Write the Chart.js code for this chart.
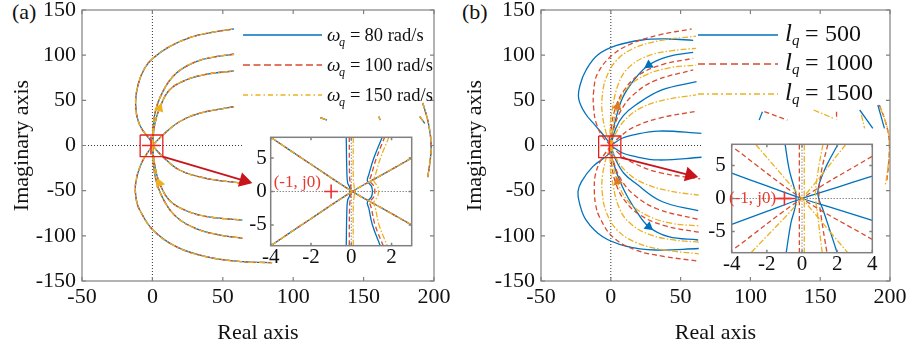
<!DOCTYPE html>
<html>
<head>
<meta charset="utf-8">
<script src="https://cdn.jsdelivr.net/npm/chart.js@4.4.1/dist/chart.umd.min.js"></script>
<style>
  body { margin: 0; width: 912px; height: 352px; position: relative; overflow: hidden; background: #fff; }
  canvas { position: absolute; }
  .tag { position: absolute; top: 1px; font: 22px 'Liberation Serif', 'Times New Roman', serif; line-height: 22px; color: #111; }
</style>
</head>
<body>
<div class="tag" style="left:12px">(a)</div>
<div class="tag" style="left:462px">(b)</div>
<canvas id="mainA" width="456" height="372" style="left:0;top:-20px"></canvas>
<canvas id="mainB" width="456" height="372" style="left:456px;top:-20px"></canvas>
<canvas id="insetA" width="195" height="165" style="left:230px;top:115px"></canvas>
<canvas id="insetB" width="195" height="165" style="left:690px;top:122px"></canvas>
<script>
const SERIF = "'Liberation Serif', 'Times New Roman', serif";
const BLUE = '#0072BD', RED = '#D84B2F', ORANGE = '#EDB120';
const DASH = [5, 3], DASHDOT = [6, 2, 1.5, 2], DOT = [1, 2];

// ticks and legend names
const xTicksMain = [-50, 0, 50, 100, 150, 200];
const yTicksMain = [-150, -100, -50, 0, 50, 100, 150];
const xTicksInsetA = [-4, -2, 0, 2];
const xTicksInsetB = [-4, -2, 0, 2, 4];
const yTicksInset = [-5, 0, 5];
const namesA = ['80 rad/s', '100 rad/s', '150 rad/s'];
const namesB = ['500', '1000', '1500'];

// (a) main plot: the three wq curves lie on top of each other at this scale
const aUp1 = [[0,0],[-0.8,4.2],[-9,22.7],[-11.9,44.8],[-10.2,67],[-5.5,85.5],[0.4,96.5],[12.1,109.4],[28.6,120.4],[45.1,126],[58,129]];
const aUp2 = [[0,0],[1.6,33.8],[7.4,59.6],[16.9,79.9],[31,92.8],[45.1,98.3],[58,101]];
const aUp3 = [[0,0],[1.6,22.7],[5.1,41.2],[12.1,61.4],[23.9,72.5],[38,78.8],[58,82.5]];
const aUp4 = [[0,0],[7.4,11.6],[19.2,26.3],[33.3,35.6],[58,43]];
const aLo1 = [[0,0],[-7.8,-19.7],[-11.9,-41.8],[-11.4,-60.3],[-9,-71.4],[0.4,-93.5],[16.9,-112],[38,-123],[63.9,-128.6],[85,-129.7]];
const aLo2 = [[0,0],[1.8,-33],[7.6,-59],[17,-79],[31,-92],[47.5,-99],[63.9,-102.7]];
const aLo3 = [[0,0],[1.8,-23],[5.1,-41.8],[12.3,-61],[24.5,-72.5],[40,-79],[63.9,-82.5]];
const aLo4 = [[0,0],[7.4,-12.4],[19.2,-27.1],[38.1,-36.3],[63.9,-41.8]];
const aBit1 = [[119.3,30.8],[124,28.2]];
const aBit2 = [[161,31.9],[161.6,28.2]];
const aBit3 = [[189.9,31.9],[193.4,24.6]];
const aArc = [[192,47],[196,25],[198,0],[197,-20],[195.5,-35]];
const aMarks = [[5.1,41.2],[5.1,-41.8]];
const aBox = [[-8.7,11.6],[7.4,11.6],[7.4,-12.4],[-8.7,-12.4],[-8.7,11.6]];
const aArrow = [[7.4,-12.4],[65.1,-39]];
const aZeroH = [[-50,0],[63.7,0]];
const zeroV = [[0,-150],[0,150]];
const minusOne = [[-1,0]];

// (b) main plot, per lq value
const bUp1 = [[0,0],[-4,9],[-11,22],[-18.5,36],[-23,52],[-22,67],[-17.7,83.6],[-9.4,100.2],[3.6,110.5],[22.5,116.8],[41.4,117.9],[59,116.4]];
const bUp2 = [[0,0],[0.8,12],[2.4,22.7],[8.3,52.2],[16.6,72.5],[27.2,89.1],[41,98.5],[59,103]];
const bUp3 = [[0,0],[3.6,19],[9,33],[17.8,44.8],[36.6,61.5],[61.4,70.7]];
const bUp4 = [[0,0],[8,8],[15.3,11.6],[34.2,16],[64.9,13.5]];
const bLo1 = [[0,0],[-1.1,-8.7],[-12.9,-23.4],[-21,-40],[-23.5,-51],[-22.4,-64],[-17.7,-82.5],[-5.8,-101],[10.7,-111.3],[31.9,-115.7],[63,-114]];
const bLo2 = [[0,0],[1.2,-16],[8.3,-45.6],[17.8,-71.4],[27.2,-89.9],[41.4,-101],[62.6,-104.6]];
const bLo3 = [[0,0],[3.6,-16],[9.5,-31],[17.8,-41.9],[36.6,-62],[62.6,-72]];
const bLo4 = [[0,0],[8,-8],[15.3,-11.6],[34,-16],[65,-13]];
const rUp1 = [[0,0],[-5.9,9.8],[-10.5,25],[-12.3,42],[-12.3,59.6],[-9.4,79.9],[1.2,100.2],[15.4,113.1],[34.3,122.3],[57.9,129]];
const rUp2 = [[0,0],[0.5,20],[3,40],[9,60],[20,78],[38,90],[59,96.5]];
const rUp3 = [[0,0],[2,18],[7,38],[16,56],[32,72],[59,83.6]];
const rUp4 = [[0,0],[6,9],[16,20],[34,30],[60,37.5]];
const rLo1 = [[0,0],[-7,-16],[-11,-32],[-11.8,-49.3],[-10.8,-66],[-8.2,-78.8],[1.2,-101],[17.8,-115.7],[39,-123],[63,-128]];
const rLo2 = [[0,0],[0.6,-20],[3.2,-40],[9.5,-60],[21,-77],[39,-89],[63,-96]];
const rLo3 = [[0,0],[2,-18],[7.5,-38],[17,-55],[33,-70],[63,-82]];
const rLo4 = [[0,0],[6,-9],[17,-20],[35,-30],[64,-37]];
const oUp1 = [[0,0],[-3,12],[-5.9,33],[-6.3,52],[-3.5,74],[4,94],[17,108],[35,116],[61,121]];
const oUp2 = [[0,0],[-0.5,15],[0.5,35],[5.9,70],[14,88],[28,100],[44,105],[61,107.5]];
const oUp3 = [[0,0],[1,15],[4.8,43],[12,64],[25,78],[42,86],[61,89]];
const oUp4 = [[0,0],[3,12],[10,28],[22,42],[40,51],[61,56]];
const oLo1 = [[0,0],[-3,-12],[-5.9,-33],[-6.2,-51],[-3.4,-73],[4.2,-93],[17.5,-107],[36,-115],[63,-120]];
const oLo2 = [[0,0],[-0.5,-15],[0.6,-35],[6,-69],[14.5,-87],[28.5,-99],[45,-104.5],[63,-107]];
const oLo3 = [[0,0],[1,-15],[4.8,-40],[12.5,-62],[25.5,-77],[43,-86],[63,-89]];
const oLo4 = [[0,0],[3,-12],[10.5,-28],[22.5,-41],[41,-50],[63,-55]];
const bBit1 = [[106.3,28.2],[108.6,37.4]];
const bBit2 = [[178.3,39.3],[187.7,19]];
const bBit3 = [[191.3,44.8],[196,19]];
const rBit1 = [[110,37.4],[126.5,28.2]];
const rBit2 = [[161.7,37.4],[161.7,28.2]];
const rArc = [[192.4,44.8],[197,25],[199.5,4],[199,-20],[197.5,-42]];
const oBit1 = [[145.3,39.3],[159.4,30.1]];
const oBit2 = [[179.5,33.8],[181.8,19]];
const oArc = [[193,42],[198,20],[199.5,0],[198.5,-25],[196.5,-45]];
const bBlueMarks = [[27.2,89.1],[27.2,-89.9]];
const bOrangeMarks = [[4.8,43],[4.8,-40]];
const bBox = [[-8.7,10.5],[7.2,10.5],[7.2,-13.5],[-8.7,-13.5],[-8.7,10.5]];
const bArrow = [[7.2,-13.5],[56.6,-32.7]];
const bZeroH = [[-50,0],[64.7,0]];

// (a) inset, zoom round (-1, j0)
const iaDiag1 = [[-4,8.1],[-2,4.06],[0,0.1],[1.5,-2.45],[3,-5]];
const iaDiag2 = [[-4,-8.1],[-2,-4.06],[0,-0.1],[1.5,2.45],[3,5]];
const iaMidBlue = [[-0.25,8.2],[-0.22,3],[-0.18,1.3],[-0.08,0.6],[-0.08,-0.6],[-0.18,-1.3],[-0.22,-3],[-0.25,-8.2]];
const iaMidRed = [[-0.1,8.2],[-0.08,2],[-0.02,0.6],[-0.02,-0.6],[-0.08,-2],[-0.1,-8.2]];
const iaMidOrange = [[0.1,8.2],[0.1,2],[0.15,0.5],[0.15,-0.5],[0.1,-2],[0.1,-8.2]];
const iaRightBlue = [[1.55,8.2],[1.12,5],[0.87,2.5],[0.8,1.6],[1,0.8],[1.05,0],[1,-0.8],[0.8,-1.6],[0.87,-2.5],[1.05,-5],[1.45,-8.2]];
const iaRightRed = [[1.67,8.2],[1.25,5],[1,2.5],[0.93,1.6],[1.12,0.8],[1.17,0],[1.12,-0.8],[0.93,-1.6],[1,-2.5],[1.18,-5],[1.6,-8.2]];
const iaRightOrange = [[1.88,8.2],[1.45,5],[1.2,2.5],[1.12,1.6],[1.3,0.8],[1.35,0],[1.3,-0.8],[1.12,-1.6],[1.2,-2.5],[1.38,-5],[1.8,-8.2]];
const iaZeroH = [[-4,0],[3,0]];
const iaZeroV = [[0,-8.1],[0,8.1]];

// (b) inset
const ibBlueDiag1 = [[-4,3.85],[-2,1.9],[0,0],[2,-1.65],[4,-3.3]];
const ibBlueDiag2 = [[-4,-3.9],[-2,-1.95],[0,0],[2,1.7],[4,3.4]];
const ibBlueLeft = [[-0.96,8.2],[-0.73,4.4],[-0.44,1.6],[-0.34,0.6],[-0.38,-1.2],[-0.63,-3.7],[-0.9,-8.2]];
const ibBlueRight = [[2.05,8.2],[1.38,4.9],[1,2.4],[0.9,0.86],[1,-0.4],[1.19,-1.67],[1.57,-4.7],[2,-8.2]];
const ibRedDiag1 = [[-3.8,7.5],[0,0],[4,-6.2]];
const ibRedDiag2 = [[-3.8,-7.5],[0,0],[4,6.4]];
const ibRedMid = [[-0.15,8.2],[-0.15,-8.2]];
const ibRedRight = [[1.47,8.2],[1.09,3.9],[0.96,0.6],[1.09,-2.7],[1.42,-8.2]];
const ibRedStub = [[-1.6,0],[-0.35,0]];
const ibOrgDiag1 = [[-2.64,8.2],[0,0],[2.6,-8.2]];
const ibOrgDiag2 = [[-2.9,-8.2],[0,0],[2.5,8.2]];
const ibOrgMid = [[0.13,8.2],[0.13,-8.2]];
const ibOrgRight = [[1.19,8.2],[0.9,3.9],[0.77,0.6],[0.9,-2.7],[1.15,-8.2]];
const ibZeroH = [[-4,0],[4,0]];
const ibZeroV = [[0,-8.2],[0,8.2]];

const P = a => a.map(([x, y]) => ({x, y}));
function curve(data, color, dash, width, tension) {
  return { data: P(data), showLine: true, borderColor: color, borderWidth: width || 1.3,
    borderDash: dash || [], pointRadius: 0, tension: tension === undefined ? 0.4 : tension, fill: false };
}
function marker(data, color, style, radius, rotation) {
  return { data: P(data), showLine: false, pointStyle: style, pointRadius: radius, pointRotation: rotation || 0,
    pointBackgroundColor: color, pointBorderColor: color, pointBorderWidth: 1.6 };
}

// grey box with inward ticks, MATLAB style
const frame = {
  id: 'frame',
  beforeDatasetsDraw(c) {
    const r = c.chartArea, ctx = c.ctx;
    ctx.save(); ctx.fillStyle = '#fff';
    ctx.fillRect(r.left, r.top, r.right - r.left, r.bottom - r.top); ctx.restore();
  },
  afterDatasetsDraw(c, args, o) {
    const {ctx, chartArea: r, scales: {x, y}} = c;
    ctx.save();
    ctx.strokeStyle = '#808080'; ctx.lineWidth = o.width;
    ctx.beginPath();
    x.ticks.forEach(t => {
      const p = x.getPixelForValue(t.value);
      ctx.moveTo(p, r.top); ctx.lineTo(p, r.top + o.tick);
      ctx.moveTo(p, r.bottom); ctx.lineTo(p, r.bottom - o.tick);
    });
    y.ticks.forEach(t => {
      const p = y.getPixelForValue(t.value);
      ctx.moveTo(r.left, p); ctx.lineTo(r.left + o.tick, p);
      ctx.moveTo(r.right, p); ctx.lineTo(r.right - o.tick, p);
    });
    ctx.stroke();
    ctx.strokeRect(r.left, r.top, r.right - r.left, r.bottom - r.top);
    ctx.restore();
  }
};

// "(-1, j0)" labels inside the insets
const notes = {
  id: 'notes',
  afterDraw(c, args, o) {
    if (!o.items) return;
    const ctx = c.ctx;
    ctx.save();
    ctx.font = '17px ' + SERIF; ctx.fillStyle = '#E8392F';
    ctx.textAlign = 'center'; ctx.textBaseline = 'middle';
    o.items.forEach(n => ctx.fillText(n.text, c.scales.x.getPixelForValue(n.x), c.scales.y.getPixelForValue(n.y)));
    ctx.restore();
  }
};

const legendBox = {
  id: 'legendBox',
  afterDraw(c, args, o) {
    if (!o.names) return;
    const ctx = c.ctx;
    o.names.forEach((name, i) => {
      const y = o.y[i], st = o.styles[i];
      ctx.save();
      ctx.strokeStyle = st.c; ctx.lineWidth = 1.4; ctx.setLineDash(st.d);
      ctx.beginPath(); ctx.moveTo(o.x0, y); ctx.lineTo(o.x1, y); ctx.stroke();
      ctx.setLineDash([]);
      ctx.fillStyle = '#111'; ctx.textAlign = 'left'; ctx.textBaseline = 'alphabetic';
      ctx.font = 'italic ' + o.symSize + 'px ' + SERIF; ctx.fillText(o.sym, o.symX, y + o.base);
      ctx.font = 'italic ' + o.subSize + 'px ' + SERIF; ctx.fillText('q', o.subX, y + o.base + o.subDrop);
      ctx.font = o.size + 'px ' + SERIF;
      ctx.fillText('=', o.eqX, y + o.base);
      ctx.fillText(name, o.valX, y + o.base);
      ctx.restore();
    });
  }
};

function axis(min, max, ticks, size, pad, fit, title) {
  return {
    type: 'linear', min, max,
    afterBuildTicks: s => { s.ticks = ticks.map(v => ({ value: v })); },
    afterFit: fit,
    grid: { display: false, drawTicks: false }, border: { display: false },
    ticks: { autoSkip: false, maxRotation: 0, padding: pad, color: '#111', font: { family: SERIF, size, lineHeight: 1 } },
    title: title || { display: false }
  };
}

function mainChart(id, datasets, yWidth, padRight, yTitlePad, legend) {
  const tf = { family: SERIF, size: 22, lineHeight: 1 };
  return new Chart(document.getElementById(id), {
    type: 'scatter',
    data: { datasets },
    plugins: [frame, legendBox],
    options: {
      responsive: false, animation: false, devicePixelRatio: 1, events: [],
      layout: { padding: { left: 0, right: padRight, top: 30, bottom: 0 } },
      plugins: { legend: { display: false }, tooltip: { enabled: false },
        frame: { tick: 4, width: 1.2 }, legendBox: legend },
      scales: {
        x: axis(-50, 200, xTicksMain, 22, 5.5, s => { s.height = 71; },
          { display: true, text: 'Real axis', color: '#111', font: tf, padding: { top: 0, bottom: 8 } }),
        y: axis(-150, 150, yTicksMain, 22, 6, s => { s.width = yWidth; },
          { display: true, text: 'Imaginary axis', color: '#111', font: tf, padding: { top: yTitlePad, bottom: 0 } })
      }
    }
  });
}

function insetChart(id, datasets, xr, xt, yr, yWidth, padRight, yPad, label) {
  return new Chart(document.getElementById(id), {
    type: 'scatter',
    data: { datasets },
    plugins: [frame, notes],
    options: {
      responsive: false, animation: false, devicePixelRatio: 1, events: [],
      layout: { padding: { left: 0, right: padRight, top: 22.3, bottom: 0 } },
      plugins: { legend: { display: false }, tooltip: { enabled: false },
        frame: { tick: 3, width: 1.5 }, notes: { items: [label] } },
      scales: {
        x: axis(xr[0], xr[1], xt, 21, 1.7, s => { s.height = 34.3; }),
        y: axis(yr[0], yr[1], yTicksInset, 21, yPad, s => { s.width = yWidth; })
      }
    }
  });
}

// ---- panel (a) ----
const aCurves = [aUp1, aUp2, aUp3, aUp4, aLo1, aLo2, aLo3, aLo4, aBit1, aBit2, aBit3, aArc];
mainChart('mainA', [
  curve(aBox, '#E02020', [], 1.3, 0),
  curve(aArrow, '#C8141C', [], 1.8, 0),
  marker([aArrow[1]], '#C8141C', 'triangle', 7, 106),
  marker(minusOne, '#F02828', 'cross', 9),
  marker(aMarks, ORANGE, 'triangle', 4, [20, 340]),
  ...aCurves.map(c => curve(c, ORANGE, DASHDOT)),
  ...aCurves.map(c => curve(c, RED, DASH)),
  ...aCurves.map(c => curve(c, BLUE)),
  curve(aZeroH, '#333', DOT, 1, 0),
  curve(zeroV, '#333', DOT, 1, 0)
], 82, 20, 11, {
  names: namesA, x0: 243, x1: 322, y: [55, 85, 115], base: 5.5,
  sym: 'ω', symX: 327, symSize: 19, subX: 339, subSize: 12, subDrop: 5.5,
  eqX: 350, valX: 364.5, size: 18.5,
  styles: [{ c: BLUE, d: [] }, { c: RED, d: [7, 3.5] }, { c: ORANGE, d: [5, 3, 1.5, 3] }]
});

insetChart('insetA', [
  marker(minusOne, '#F03030', 'cross', 7),
  ...[iaDiag1, iaDiag2, iaMidOrange, iaRightOrange].map(c => curve(c, ORANGE, DASHDOT, 1.3)),
  ...[iaDiag1, iaDiag2, iaMidRed, iaRightRed].map(c => curve(c, RED, DASH, 1.3)),
  ...[iaDiag1, iaDiag2, iaMidBlue, iaRightBlue].map(c => curve(c, BLUE, [], 1.3)),
  curve(iaZeroH, '#555', DOT, 1, 0),
  curve(iaZeroV, '#555', DOT, 1, 0)
], [-4, 3], xTicksInsetA, [-8.1, 8.1], 40.7, 13.3, 4, { text: '(-1, j0)', x: -2.68, y: 1.3 });

// ---- panel (b) ----
const blueCurves = [bUp1, bUp2, bUp3, bUp4, bLo1, bLo2, bLo3, bLo4, bBit1, bBit2, bBit3];
const redCurves = [rUp1, rUp2, rUp3, rUp4, rLo1, rLo2, rLo3, rLo4, rBit1, rBit2, rArc];
const orangeCurves = [oUp1, oUp2, oUp3, oUp4, oLo1, oLo2, oLo3, oLo4, oBit1, oBit2, oArc];
mainChart('mainB', [
  curve(bBox, '#E02020', [], 1.3, 0),
  curve(bArrow, '#C8141C', [], 1.8, 0),
  marker([bArrow[1]], '#C8141C', 'triangle', 7, 104),
  marker(minusOne, '#F02828', 'cross', 9),
  marker(bBlueMarks, BLUE, 'triangle', 4, [236, 128]),
  marker(bOrangeMarks, '#E07A20', 'triangle', 4, [15, 345]),
  ...orangeCurves.map(c => curve(c, ORANGE, DASHDOT)),
  ...redCurves.map(c => curve(c, RED, DASH)),
  ...blueCurves.map(c => curve(c, BLUE)),
  curve(bZeroH, '#333', DOT, 1, 0),
  curve(zeroV, '#333', DOT, 1, 0)
], 85, 18, 8.7, {
  names: namesB, x0: 242, x1: 322, y: [55, 84, 114], base: 6,
  sym: 'l', symX: 329, symSize: 25, subX: 336, subSize: 15, subDrop: 4,
  eqX: 349, valX: 369, size: 24,
  styles: [{ c: BLUE, d: [] }, { c: RED, d: [7, 4] }, { c: ORANGE, d: [6, 3, 2, 3] }]
});

insetChart('insetB', [
  marker(minusOne, '#F03030', 'cross', 7),
  curve(ibRedStub, '#F03030', [], 1.6, 0),
  ...[ibOrgDiag1, ibOrgDiag2, ibOrgMid, ibOrgRight].map(c => curve(c, ORANGE, DASHDOT, 1.3)),
  ...[ibRedDiag1, ibRedDiag2, ibRedMid, ibRedRight].map(c => curve(c, RED, DASH, 1.3)),
  ...[ibBlueDiag1, ibBlueDiag2, ibBlueLeft, ibBlueRight].map(c => curve(c, BLUE, [], 1.3)),
  curve(ibZeroH, '#555', DOT, 1, 0),
  curve(ibZeroV, '#555', DOT, 1, 0)
], [-4, 4], xTicksInsetB, [-8.2, 8.2], 41.7, 12.7, 6, { text: '(-1, j0)', x: -2.81, y: 0 });
</script>
</body>
</html>
